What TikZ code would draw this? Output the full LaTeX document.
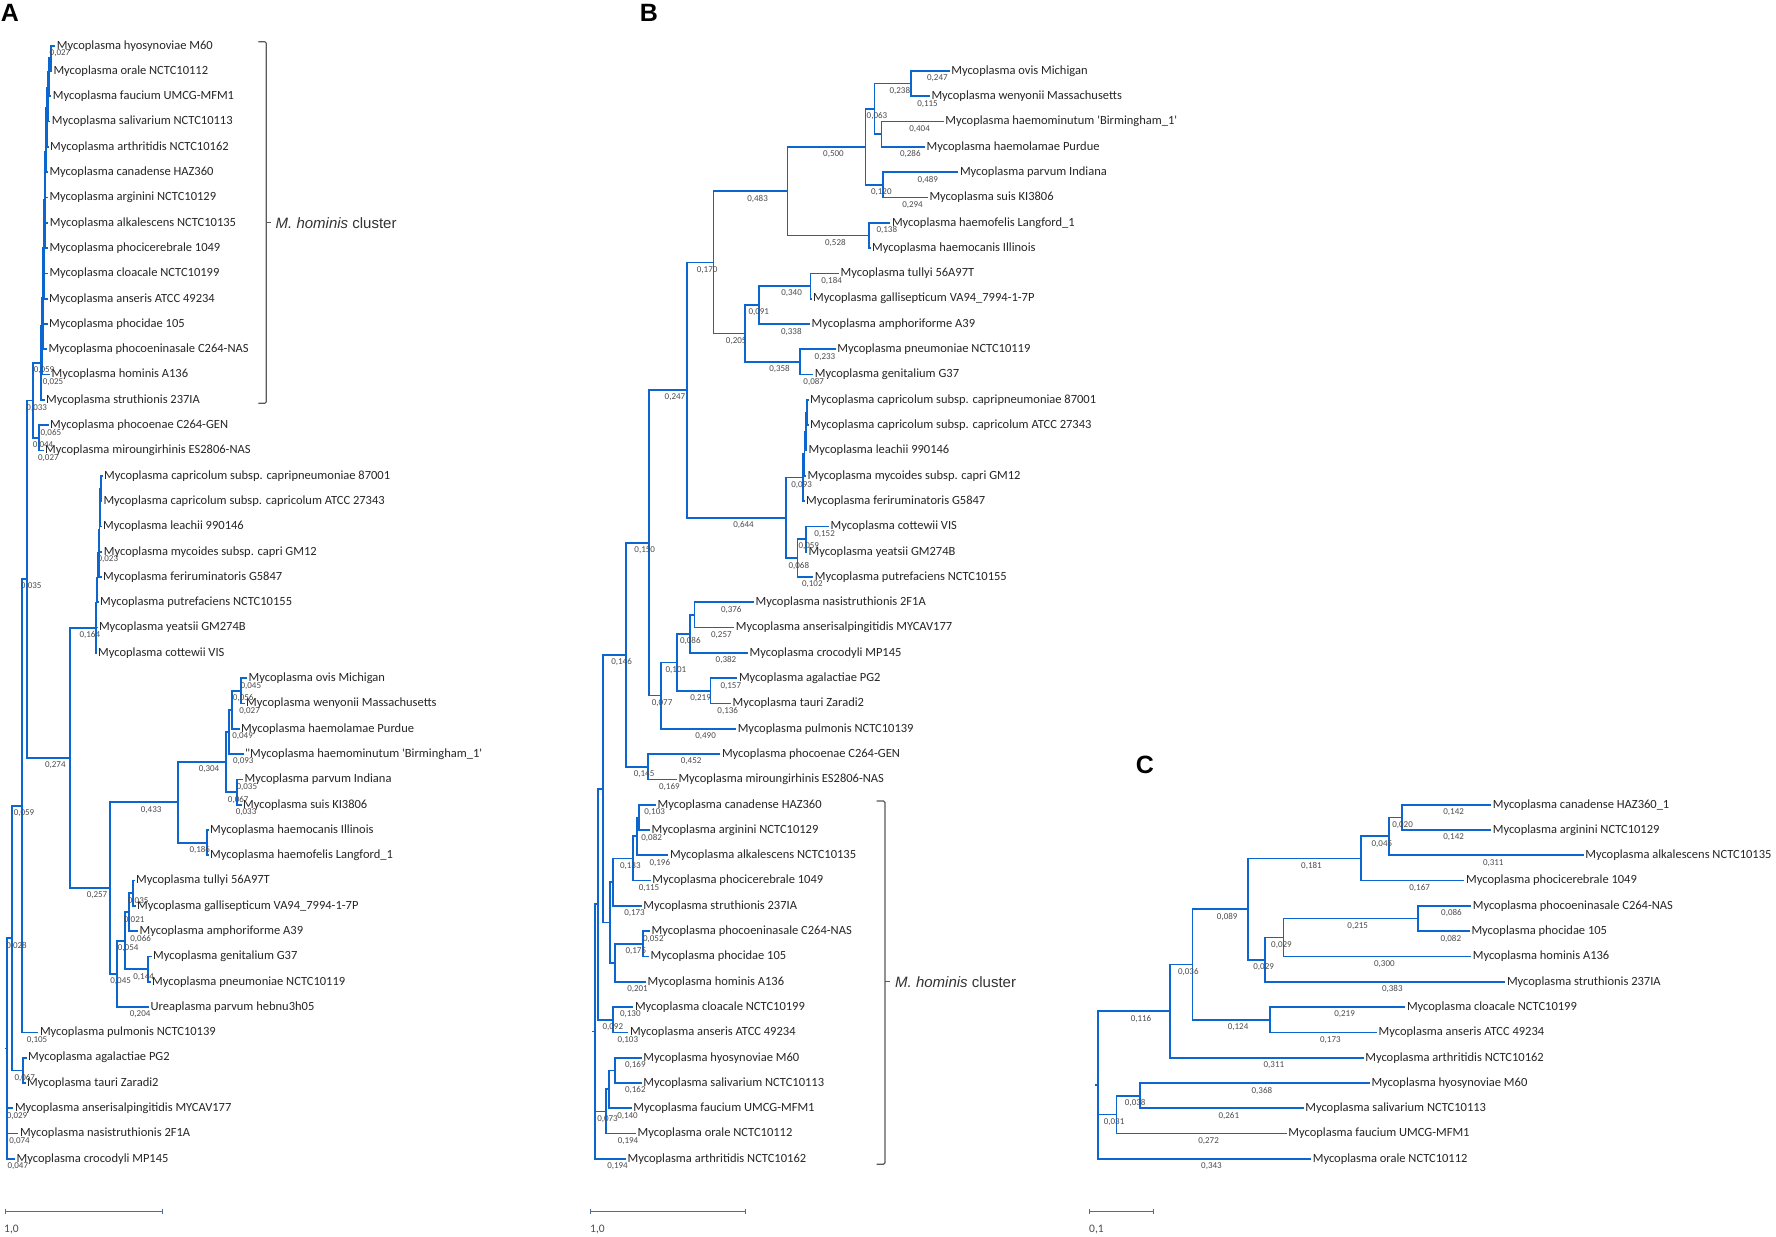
\documentclass[tikz,border=0pt]{standalone}
\usepackage{fontspec}
\newfontfamily\taxfont{Carlito}
\newfontfamily\headfont{Liberation Sans}
\definecolor{treeblue}{RGB}{12,102,208}
\definecolor{bargray}{RGB}{70,110,160}

\begin{document}
\begin{tikzpicture}[x=1pt, y=-1pt,
	branch/.style={draw=treeblue, line width=1.7pt},
	taxon/.style={anchor=west, inner sep=1.5pt, font=\taxfont\fontsize{12.5}{13}\selectfont, text=black!85},
	blen/.style={pos=0.75, xshift=7pt, yshift=-7.5pt, inner sep=0pt, font=\taxfont\fontsize{9}{9}\selectfont, text=black!70},
	bracket/.style={draw=black!65, line width=1.2pt, rounded corners=1.5pt},
	cluster/.style={anchor=west, inner sep=0pt, font=\headfont\fontsize{15}{15}\selectfont, text=black!80},
	panel/.style={inner sep=0pt, font=\headfont\bfseries\fontsize{25}{25}\selectfont},
	scalebar/.style={draw=bargray, line width=1pt},
	scaletext/.style={anchor=west, inner sep=0pt, font=\taxfont\fontsize{11.5}{12}\selectfont, text=black!70}]
	\path [use as bounding box, fill=white] (0, 0) rectangle (1776, 1236);

	\node [panel] (pa) at (10, 12.5) {A};
	\node [panel] (pb) at (649, 12.5) {B};
	\node [panel] (pc) at (1145, 765) {C};

	\node [taxon] (a1) at (55.2, 45.7) {Mycoplasma hyosynoviae M60};
	\node [taxon] (a2) at (51.8, 71.0) {Mycoplasma orale NCTC10112};
	\node [taxon] (a3) at (51.2, 96.3) {Mycoplasma faucium UMCG-MFM1};
	\node [taxon] (a4) at (50.2, 121.6) {Mycoplasma salivarium NCTC10113};
	\node [taxon] (a5) at (48.5, 146.9) {Mycoplasma arthritidis NCTC10162};
	\node [taxon] (a6) at (47.8, 172.2) {Mycoplasma canadense HAZ360};
	\node [taxon] (a7) at (47.8, 197.5) {Mycoplasma arginini NCTC10129};
	\node [taxon] (a8) at (48.2, 222.8) {Mycoplasma alkalescens NCTC10135};
	\node [taxon] (a9) at (47.8, 248.1) {Mycoplasma phocicerebrale 1049};
	\node [taxon] (a10) at (47.8, 273.4) {Mycoplasma cloacale NCTC10199};
	\node [taxon] (a11) at (47.5, 298.7) {Mycoplasma anseris ATCC 49234};
	\node [taxon] (a12) at (47.5, 324.0) {Mycoplasma phocidae 105};
	\node [taxon] (a13) at (46.8, 349.3) {Mycoplasma phocoeninasale C264-NAS};
	\node [taxon] (a14) at (50.0, 374.6) {Mycoplasma hominis A136};
	\node [taxon] (a15) at (44.5, 399.9) {Mycoplasma struthionis 237IA};
	\node [taxon] (a16) at (48.5, 425.2) {Mycoplasma phocoenae C264-GEN};
	\node [taxon] (a17) at (43.5, 450.5) {Mycoplasma miroungirhinis ES2806-NAS};
	\node [taxon] (a18) at (102.5, 475.8) {Mycoplasma capricolum subsp. capripneumoniae 87001};
	\node [taxon] (a19) at (101.8, 501.1) {Mycoplasma capricolum subsp. capricolum ATCC 27343};
	\node [taxon] (a20) at (101.5, 526.4) {Mycoplasma leachii 990146};
	\node [taxon] (a21) at (102.2, 551.7) {Mycoplasma mycoides subsp. capri GM12};
	\node [taxon] (a22) at (101.5, 577.0) {Mycoplasma feriruminatoris G5847};
	\node [taxon] (a23) at (98.5, 602.3) {Mycoplasma putrefaciens NCTC10155};
	\node [taxon] (a24) at (97.3, 627.6) {Mycoplasma yeatsii GM274B};
	\node [taxon] (a25) at (96.5, 652.9) {Mycoplasma cottewii VIS};
	\node [taxon] (a26) at (247.0, 678.2) {Mycoplasma ovis Michigan};
	\node [taxon] (a27) at (244.5, 703.5) {Mycoplasma wenyonii Massachusetts};
	\node [taxon] (a28) at (239.5, 728.8) {Mycoplasma haemolamae Purdue};
	\node [taxon] (a29) at (243.5, 754.1) {"Mycoplasma haemominutum 'Birmingham\_1'};
	\node [taxon] (a30) at (243.0, 779.4) {Mycoplasma parvum Indiana};
	\node [taxon] (a31) at (241.5, 804.7) {Mycoplasma suis KI3806};
	\node [taxon] (a32) at (208.5, 830.0) {Mycoplasma haemocanis Illinois};
	\node [taxon] (a33) at (208.5, 855.3) {Mycoplasma haemofelis Langford\_1};
	\node [taxon] (a34) at (134.5, 880.6) {Mycoplasma tullyi 56A97T};
	\node [taxon] (a35) at (135.5, 905.9) {Mycoplasma gallisepticum VA94\_7994-1-7P};
	\node [taxon] (a36) at (138.0, 931.2) {Mycoplasma amphoriforme A39};
	\node [taxon] (a37) at (151.5, 956.5) {Mycoplasma genitalium G37};
	\node [taxon] (a38) at (150.5, 981.8) {Mycoplasma pneumoniae NCTC10119};
	\node [taxon] (a39) at (149.0, 1007.1) {Ureaplasma parvum hebnu3h05};
	\node [taxon] (a40) at (38.3, 1032.4) {Mycoplasma pulmonis NCTC10139};
	\node [taxon] (a41) at (26.5, 1057.7) {Mycoplasma agalactiae PG2};
	\node [taxon] (a42) at (25.5, 1083.0) {Mycoplasma tauri Zaradi2};
	\node [taxon] (a43) at (13.3, 1108.3) {Mycoplasma anserisalpingitidis MYCAV177};
	\node [taxon] (a44) at (18.3, 1133.6) {Mycoplasma nasistruthionis 2F1A};
	\node [taxon] (a45) at (15.0, 1158.9) {Mycoplasma crocodyli MP145};

	\coordinate (ah1) at (50.7, 58);
	\coordinate (ah2) at (49.3, 72);
	\coordinate (ah3) at (48.3, 88);
	\coordinate (ah4) at (46.7, 108);
	\coordinate (ah5) at (46.0, 130);
	\coordinate (ah6) at (45.5, 152);
	\coordinate (ah7) at (45.0, 176);
	\coordinate (ah8) at (44.7, 200);
	\coordinate (ah9) at (44.3, 224);
	\coordinate (ah10) at (44.0, 248);
	\coordinate (ah11) at (43.3, 272);
	\coordinate (ah12) at (42.7, 298);
	\coordinate (ah13) at (42.0, 326);
	\coordinate (ah14) at (41.3, 363);
	\coordinate (apm) at (39.3, 437.85);
	\coordinate (an33) at (32.7, 400.4);
	\coordinate (an35) at (26.7, 579.1);
	\coordinate (an274) at (70.0, 757.8);
	\coordinate (am1) at (101.0, 488.45);
	\coordinate (am2) at (100.3, 507.4);
	\coordinate (am3) at (99.5, 529.55);
	\coordinate (am4) at (98.7, 553.3);
	\coordinate (am5) at (97.6, 577.8);
	\coordinate (am6) at (96.6, 602.7);
	\coordinate (agm) at (95.7, 627.8);
	\coordinate (aow) at (240.7, 690.85);
	\coordinate (au2) at (231.7, 709.8);
	\coordinate (au1) at (229.0, 731.95);
	\coordinate (aps) at (236.7, 792.05);
	\coordinate (ahb) at (225.7, 762.0);
	\coordinate (ahc) at (207.3, 842.65);
	\coordinate (aha) at (178.3, 802.3);
	\coordinate (atg) at (133.0, 893.25);
	\coordinate (atga) at (129.3, 912.2);
	\coordinate (agp) at (148.3, 969.15);
	\coordinate (az375) at (125.0, 940.7);
	\coordinate (az352) at (117.3, 973.9);
	\coordinate (az330) at (110.0, 888.1);
	\coordinate (an59) at (21.7, 805.75);
	\coordinate (aat) at (23.3, 1070.35);
	\coordinate (an28) at (12.3, 938.05);
	\coordinate (aroot) at (6.7, 1048.5);
	\coordinate (a0) at (4.5, 1048.5);

	\draw [branch] (ah1) |- (a1) node [blen] {0,027};
	\draw [branch] (ah1) |- (a2);
	\draw [branch] (ah2) |- (ah1);
	\draw [branch] (ah2) |- (a3);
	\draw [branch] (ah3) |- (ah2);
	\draw [branch] (ah3) |- (a4);
	\draw [branch] (ah4) |- (ah3);
	\draw [branch] (ah4) |- (a5);
	\draw [branch] (ah5) |- (ah4);
	\draw [branch] (ah5) |- (a6);
	\draw [branch] (ah6) |- (ah5);
	\draw [branch] (ah6) |- (a7);
	\draw [branch] (ah7) |- (ah6);
	\draw [branch] (ah7) |- (a8);
	\draw [branch] (ah8) |- (ah7);
	\draw [branch] (ah8) |- (a9);
	\draw [branch] (ah9) |- (ah8);
	\draw [branch] (ah9) |- (a10);
	\draw [branch] (ah10) |- (ah9);
	\draw [branch] (ah10) |- (a11);
	\draw [branch] (ah11) |- (ah10);
	\draw [branch] (ah11) |- (a12);
	\draw [branch] (ah12) |- (ah11);
	\draw [branch] (ah12) |- (a13);
	\draw [branch] (ah13) |- (ah12);
	\draw [branch] (ah13) |- (a14) node [blen] {0,025};
	\draw [branch] (ah14) |- (ah13);
	\draw [branch] (ah14) |- (a15);
	\draw [branch] (an33) |- (ah14) node [blen] {0,059};
	\draw [branch] (an33) |- (apm) node [blen] {0,044};
	\draw [branch] (apm) |- (a16) node [blen] {0,065};
	\draw [branch] (apm) |- (a17) node [blen] {0,027};
	\draw [branch] (an35) |- (an33) node [blen] {0,033};
	\draw [branch] (an35) |- (an274) node [blen] {0,274};
	\draw [branch] (an274) |- (agm) node [blen] {0,164};
	\draw [branch] (an274) |- (az330) node [blen] {0,257};

	\draw [branch] (am1) |- (a18);
	\draw [branch] (am1) |- (a19);
	\draw [branch] (am2) |- (am1);
	\draw [branch] (am2) |- (a20);
	\draw [branch] (am3) |- (am2);
	\draw [branch] (am3) |- (a21) node [blen] {0,023};
	\draw [branch] (am4) |- (am3);
	\draw [branch] (am4) |- (a22);
	\draw [branch] (am5) |- (am4);
	\draw [branch] (am5) |- (a23);
	\draw [branch] (am6) |- (am5);
	\draw [branch] (am6) |- (a24);
	\draw [branch] (agm) |- (am6);
	\draw [branch] (agm) |- (a25);

	\draw [branch] (aow) |- (a26) node [blen] {0,045};
	\draw [branch] (aow) |- (a27) node [blen] {0,027};
	\draw [branch] (au2) |- (aow) node [blen] {0,056};
	\draw [branch] (au2) |- (a28) node [blen] {0,049};
	\draw [branch] (au1) |- (au2);
	\draw [branch] (au1) |- (a29) node [blen] {0,093};
	\draw [branch] (aps) |- (a30) node [blen] {0,035};
	\draw [branch] (aps) |- (a31) node [blen] {0,033};
	\draw [branch] (ahb) |- (au1);
	\draw [branch] (ahb) |- (aps) node [blen] {0,067};
	\draw [branch] (ahc) |- (a32);
	\draw [branch] (ahc) |- (a33);
	\draw [branch] (aha) |- (ahb) node [blen] {0,304};
	\draw [branch] (aha) |- (ahc) node [blen] {0,186};
	\draw [branch] (az330) |- (aha) node [blen] {0,433};

	\draw [branch] (atg) |- (a34);
	\draw [branch] (atg) |- (a35);
	\draw [branch] (atga) |- (atg) node [blen] {0,035};
	\draw [branch] (atga) |- (a36) node [blen] {0,066};
	\draw [branch] (agp) |- (a37);
	\draw [branch] (agp) |- (a38);
	\draw [branch] (az375) |- (atga) node [blen] {0,021};
	\draw [branch] (az375) |- (agp) node [blen] {0,144};
	\draw [branch] (az352) |- (az375) node [blen] {0,054};
	\draw [branch] (az352) |- (a39) node [blen] {0,204};
	\draw [branch] (az330) |- (az352) node [blen] {0,045};

	\draw [branch] (an59) |- (an35) node [blen] {0,035};
	\draw [branch] (an59) |- (a40) node [blen] {0,105};
	\draw [branch] (aat) |- (a41);
	\draw [branch] (aat) |- (a42);
	\draw [branch] (an28) |- (an59) node [blen] {0,059};
	\draw [branch] (an28) |- (aat) node [blen] {0,067};
	\draw [branch] (aroot) |- (an28) node [blen] {0,028};
	\draw [branch] (aroot) |- (a43) node [blen] {0,029};
	\draw [branch] (aroot) |- (a44) node [blen] {0,074};
	\draw [branch] (aroot) |- (a45) node [blen] {0,047};
	\draw [branch] (a0) -- (aroot);

	\draw [bracket] (258.3, 41.7) -- (266.3, 41.7) -- (266.3, 403.3) -- (258.3, 403.3);
	\draw [bracket] (266.3, 222.7) -- (271.3, 222.7);
	\node [cluster] (ahom) at (275.5, 222.7) {{\itshape M. hominis} cluster};

	\draw [scalebar] (5, 1208.5) -- (5, 1213.5) (5, 1211) -- (162.3, 1211) (162.3, 1208.5) -- (162.3, 1213.5);
	\node [scaletext] (asc) at (4, 1229.3) {1,0};

	\node [taxon] (b1) at (949.6, 71.0) {Mycoplasma ovis Michigan};
	\node [taxon] (b2) at (929.8, 96.3) {Mycoplasma wenyonii Massachusetts};
	\node [taxon] (b3) at (943.6, 121.6) {Mycoplasma haemominutum 'Birmingham\_1'};
	\node [taxon] (b4) at (925.0, 146.9) {Mycoplasma haemolamae Purdue};
	\node [taxon] (b5) at (958.3, 172.2) {Mycoplasma parvum Indiana};
	\node [taxon] (b6) at (927.8, 197.5) {Mycoplasma suis KI3806};
	\node [taxon] (b7) at (890.3, 222.8) {Mycoplasma haemofelis Langford\_1};
	\node [taxon] (b8) at (870.5, 248.1) {Mycoplasma haemocanis Illinois};
	\node [taxon] (b9) at (838.9, 273.4) {Mycoplasma tullyi 56A97T};
	\node [taxon] (b10) at (811.5, 298.7) {Mycoplasma gallisepticum VA94\_7994-1-7P};
	\node [taxon] (b11) at (810.0, 324.0) {Mycoplasma amphoriforme A39};
	\node [taxon] (b12) at (835.7, 349.3) {Mycoplasma pneumoniae NCTC10119};
	\node [taxon] (b13) at (813.2, 374.6) {Mycoplasma genitalium G37};
	\node [taxon] (b14) at (808.5, 399.9) {Mycoplasma capricolum subsp. capripneumoniae 87001};
	\node [taxon] (b15) at (808.5, 425.2) {Mycoplasma capricolum subsp. capricolum ATCC 27343};
	\node [taxon] (b16) at (807.0, 450.5) {Mycoplasma leachii 990146};
	\node [taxon] (b17) at (806.0, 475.8) {Mycoplasma mycoides subsp. capri GM12};
	\node [taxon] (b18) at (804.5, 501.1) {Mycoplasma feriruminatoris G5847};
	\node [taxon] (b19) at (829.0, 526.4) {Mycoplasma cottewii VIS};
	\node [taxon] (b20) at (807.0, 551.7) {Mycoplasma yeatsii GM274B};
	\node [taxon] (b21) at (813.2, 577.0) {Mycoplasma putrefaciens NCTC10155};
	\node [taxon] (b22) at (753.9, 602.3) {Mycoplasma nasistruthionis 2F1A};
	\node [taxon] (b23) at (734.2, 627.6) {Mycoplasma anserisalpingitidis MYCAV177};
	\node [taxon] (b24) at (748.0, 652.9) {Mycoplasma crocodyli MP145};
	\node [taxon] (b25) at (737.3, 678.2) {Mycoplasma agalactiae PG2};
	\node [taxon] (b26) at (731.0, 703.5) {Mycoplasma tauri Zaradi2};
	\node [taxon] (b27) at (736.1, 728.8) {Mycoplasma pulmonis NCTC10139};
	\node [taxon] (b28) at (720.3, 754.1) {Mycoplasma phocoenae C264-GEN};
	\node [taxon] (b29) at (676.8, 779.4) {Mycoplasma miroungirhinis ES2806-NAS};
	\node [taxon] (b30) at (656.0, 804.7) {Mycoplasma canadense HAZ360};
	\node [taxon] (b31) at (650.0, 830.0) {Mycoplasma arginini NCTC10129};
	\node [taxon] (b32) at (668.3, 855.3) {Mycoplasma alkalescens NCTC10135};
	\node [taxon] (b33) at (650.7, 880.6) {Mycoplasma phocicerebrale 1049};
	\node [taxon] (b34) at (641.7, 905.9) {Mycoplasma struthionis 237IA};
	\node [taxon] (b35) at (650.0, 931.2) {Mycoplasma phocoeninasale C264-NAS};
	\node [taxon] (b36) at (649.0, 956.5) {Mycoplasma phocidae 105};
	\node [taxon] (b37) at (646.0, 981.8) {Mycoplasma hominis A136};
	\node [taxon] (b38) at (633.3, 1007.1) {Mycoplasma cloacale NCTC10199};
	\node [taxon] (b39) at (628.3, 1032.4) {Mycoplasma anseris ATCC 49234};
	\node [taxon] (b40) at (641.7, 1057.7) {Mycoplasma hyosynoviae M60};
	\node [taxon] (b41) at (641.7, 1083.0) {Mycoplasma salivarium NCTC10113};
	\node [taxon] (b42) at (631.7, 1108.3) {Mycoplasma faucium UMCG-MFM1};
	\node [taxon] (b43) at (636.0, 1133.6) {Mycoplasma orale NCTC10112};
	\node [taxon] (b44) at (626.0, 1158.9) {Mycoplasma arthritidis NCTC10162};

	\coordinate (bow) at (911.2, 83.65);
	\coordinate (bhh) at (881.6, 134.25);
	\coordinate (ba) at (874.5, 108.95);
	\coordinate (bps) at (883.2, 184.85);
	\coordinate (bb) at (865.4, 146.9);
	\coordinate (bfc) at (869.3, 235.45);
	\coordinate (bc) at (787.5, 191.2);
	\coordinate (btg) at (810.4, 286.05);
	\coordinate (bd) at (758.7, 305.0);
	\coordinate (bpg) at (800.2, 361.95);
	\coordinate (be) at (744.8, 333.5);
	\coordinate (bf) at (713.6, 262.35);
	\coordinate (bcc) at (807.3, 412.55);
	\coordinate (bcl) at (805.8, 431.5);
	\coordinate (bcm) at (804.5, 453.65);
	\coordinate (bcf) at (803.0, 477.4);
	\coordinate (bcy) at (806.1, 539.05);
	\coordinate (bcyp) at (797.4, 558.0);
	\coordinate (bg) at (786.3, 517.7);
	\coordinate (bh) at (686.7, 390.0);
	\coordinate (bna) at (694.6, 614.95);
	\coordinate (bi) at (689.9, 633.9);
	\coordinate (bat) at (710.4, 690.85);
	\coordinate (bj) at (676.8, 662.4);
	\coordinate (bk) at (661.0, 695.6);
	\coordinate (bl) at (649.2, 542.8);
	\coordinate (bpm) at (648.0, 766.75);
	\coordinate (bm) at (626.2, 654.8);
	\coordinate (bca) at (639.3, 817.35);
	\coordinate (bcaa) at (637.3, 836.3);
	\coordinate (bcp) at (633.3, 858.45);
	\coordinate (bn) at (613.3, 882.2);
	\coordinate (bpp) at (642.7, 943.85);
	\coordinate (bo) at (615.0, 962.8);
	\coordinate (bp) at (610.0, 922.5);
	\coordinate (bs) at (603.0, 788.65);
	\coordinate (bq) at (613.3, 1019.75);
	\coordinate (bt) at (598.3, 904.2);
	\coordinate (bhs) at (615.0, 1070.35);
	\coordinate (bv) at (609.3, 1089.3);
	\coordinate (bw) at (606.0, 1111.45);
	\coordinate (bu) at (595.0, 1031.55);
	\coordinate (b0) at (591.5, 1031.55);

	\draw [branch] (bow) |- (b1) node [blen] {0,247};
	\draw [branch] (bow) |- (b2) node [blen] {0,115};
	\draw [branch] (ba) |- (bow) node [blen] {0,238};
	\draw [branch] (bhh) |- (b3) node [blen] {0,404};
	\draw [branch] (bhh) |- (b4) node [blen] {0,286};
	\draw [branch] (ba) |- (bhh);
	\draw [branch] (bb) |- (ba) node [blen] {0,063};
	\draw [branch] (bps) |- (b5) node [blen] {0,489};
	\draw [branch] (bps) |- (b6) node [blen] {0,294};
	\draw [branch] (bb) |- (bps) node [blen] {0,120};
	\draw [branch] (bc) |- (bb) node [blen] {0,500};
	\draw [branch] (bfc) |- (b7) node [blen] {0,138};
	\draw [branch] (bfc) |- (b8);
	\draw [branch] (bc) |- (bfc) node [blen] {0,528};
	\draw [branch] (bf) |- (bc) node [blen] {0,483};

	\draw [branch] (btg) |- (b9) node [blen] {0,184};
	\draw [branch] (btg) |- (b10);
	\draw [branch] (bd) |- (btg) node [blen] {0,340};
	\draw [branch] (bd) |- (b11) node [blen] {0,338};
	\draw [branch] (be) |- (bd) node [blen] {0,091};
	\draw [branch] (bpg) |- (b12) node [blen] {0,233};
	\draw [branch] (bpg) |- (b13) node [blen] {0,087};
	\draw [branch] (be) |- (bpg) node [blen] {0,358};
	\draw [branch] (bf) |- (be) node [blen] {0,205};
	\draw [branch] (bh) |- (bf) node [blen] {0,170};

	\draw [branch] (bcc) |- (b14);
	\draw [branch] (bcc) |- (b15);
	\draw [branch] (bcl) |- (bcc);
	\draw [branch] (bcl) |- (b16);
	\draw [branch] (bcm) |- (bcl);
	\draw [branch] (bcm) |- (b17);
	\draw [branch] (bcf) |- (bcm);
	\draw [branch] (bcf) |- (b18);
	\draw [branch] (bg) |- (bcf) node [blen] {0,093};
	\draw [branch] (bcy) |- (b19) node [blen] {0,152};
	\draw [branch] (bcy) |- (b20);
	\draw [branch] (bcyp) |- (bcy) node [blen] {0,059};
	\draw [branch] (bcyp) |- (b21) node [blen] {0,102};
	\draw [branch] (bg) |- (bcyp) node [blen] {0,068};
	\draw [branch] (bh) |- (bg) node [blen] {0,644};

	\draw [branch] (bna) |- (b22) node [blen] {0,376};
	\draw [branch] (bna) |- (b23) node [blen] {0,257};
	\draw [branch] (bi) |- (bna);
	\draw [branch] (bi) |- (b24) node [blen] {0,382};
	\draw [branch] (bj) |- (bi) node [blen] {0,086};
	\draw [branch] (bat) |- (b25) node [blen] {0,157};
	\draw [branch] (bat) |- (b26) node [blen] {0,136};
	\draw [branch] (bj) |- (bat) node [blen] {0,219};
	\draw [branch] (bk) |- (bj) node [blen] {0,101};
	\draw [branch] (bk) |- (b27) node [blen] {0,490};
	\draw [branch] (bl) |- (bh) node [blen] {0,247};
	\draw [branch] (bl) |- (bk) node [blen] {0,077};
	\draw [branch] (bm) |- (bl) node [blen] {0,150};
	\draw [branch] (bpm) |- (b28) node [blen] {0,452};
	\draw [branch] (bpm) |- (b29) node [blen] {0,169};
	\draw [branch] (bm) |- (bpm) node [blen] {0,145};

	\draw [branch] (bca) |- (b30) node [blen] {0,103};
	\draw [branch] (bca) |- (b31) node [blen] {0,082};
	\draw [branch] (bcaa) |- (bca);
	\draw [branch] (bcaa) |- (b32) node [blen] {0,196};
	\draw [branch] (bcp) |- (bcaa);
	\draw [branch] (bcp) |- (b33) node [blen] {0,115};
	\draw [branch] (bn) |- (bcp) node [blen] {0,133};
	\draw [branch] (bn) |- (b34) node [blen] {0,173};
	\draw [branch] (bpp) |- (b35) node [blen] {0,052};
	\draw [branch] (bpp) |- (b36);
	\draw [branch] (bo) |- (bpp) node [blen] {0,175};
	\draw [branch] (bo) |- (b37) node [blen] {0,201};
	\draw [branch] (bp) |- (bn);
	\draw [branch] (bp) |- (bo);
	\draw [branch] (bs) |- (bm) node [blen] {0,146};
	\draw [branch] (bs) |- (bp);
	\draw [branch] (bq) |- (b38) node [blen] {0,130};
	\draw [branch] (bq) |- (b39) node [blen] {0,103};
	\draw [branch] (bt) |- (bs);
	\draw [branch] (bt) |- (bq) node [blen] {0,092};
	\draw [branch] (bhs) |- (b40) node [blen] {0,169};
	\draw [branch] (bhs) |- (b41) node [blen] {0,162};
	\draw [branch] (bv) |- (bhs);
	\draw [branch] (bv) |- (b42) node [blen] {0,140};
	\draw [branch] (bw) |- (bv);
	\draw [branch] (bw) |- (b43) node [blen] {0,194};
	\draw [branch] (bu) |- (bt);
	\draw [branch] (bu) |- (bw) node [blen] {0,073};
	\draw [branch] (bu) |- (b44) node [blen] {0,194};
	\draw [branch] (b0) -- (bu);

	\draw [bracket] (876.7, 801) -- (885, 801) -- (885, 1164.3) -- (876.7, 1164.3);
	\draw [bracket] (885, 981.7) -- (889.5, 981.7);
	\node [cluster] (bhom) at (895, 981.7) {{\itshape M. hominis} cluster};

	\draw [scalebar] (590.7, 1209) -- (590.7, 1214) (590.7, 1211.5) -- (745.7, 1211.5) (745.7, 1209) -- (745.7, 1214);
	\node [scaletext] (bsc) at (590, 1229.3) {1,0};

	\node [taxon] (c1) at (1491.1, 804.7) {Mycoplasma canadense HAZ360\_1};
	\node [taxon] (c2) at (1491.1, 830.0) {Mycoplasma arginini NCTC10129};
	\node [taxon] (c3) at (1583.6, 855.3) {Mycoplasma alkalescens NCTC10135};
	\node [taxon] (c4) at (1464.4, 880.6) {Mycoplasma phocicerebrale 1049};
	\node [taxon] (c5) at (1471.1, 905.9) {Mycoplasma phocoeninasale C264-NAS};
	\node [taxon] (c6) at (1469.8, 931.2) {Mycoplasma phocidae 105};
	\node [taxon] (c7) at (1471.1, 956.5) {Mycoplasma hominis A136};
	\node [taxon] (c8) at (1505.3, 981.8) {Mycoplasma struthionis 237IA};
	\node [taxon] (c9) at (1405.3, 1007.1) {Mycoplasma cloacale NCTC10199};
	\node [taxon] (c10) at (1376.9, 1032.4) {Mycoplasma anseris ATCC 49234};
	\node [taxon] (c11) at (1363.6, 1057.7) {Mycoplasma arthritidis NCTC10162};
	\node [taxon] (c12) at (1369.8, 1083.0) {Mycoplasma hyosynoviae M60};
	\node [taxon] (c13) at (1303.6, 1108.3) {Mycoplasma salivarium NCTC10113};
	\node [taxon] (c14) at (1286.7, 1133.6) {Mycoplasma faucium UMCG-MFM1};
	\node [taxon] (c15) at (1311.1, 1158.9) {Mycoplasma orale NCTC10112};

	\coordinate (cca) at (1402.2, 817.35);
	\coordinate (ccaa) at (1388.9, 836.3);
	\coordinate (cx1) at (1360.9, 858.45);
	\coordinate (cpp) at (1417.8, 918.55);
	\coordinate (cx2) at (1283.6, 937.5);
	\coordinate (cx3) at (1265.3, 959.65);
	\coordinate (cx4) at (1248.0, 909.05);
	\coordinate (cx5) at (1269.8, 1019.75);
	\coordinate (cx6) at (1192.4, 964.4);
	\coordinate (cx7) at (1170.2, 1011.05);
	\coordinate (chs) at (1140.0, 1095.65);
	\coordinate (cx8) at (1116.4, 1114.6);
	\coordinate (cx9) at (1097.8, 1085.0);
	\coordinate (c0) at (1095.3, 1085.0);

	\draw [branch] (cca) |- (c1) node [blen] {0,142};
	\draw [branch] (cca) |- (c2) node [blen] {0,142};
	\draw [branch] (ccaa) |- (cca) node [blen] {0,020};
	\draw [branch] (ccaa) |- (c3) node [blen] {0,311};
	\draw [branch] (cx1) |- (ccaa) node [blen] {0,045};
	\draw [branch] (cx1) |- (c4) node [blen] {0,167};
	\draw [branch] (cx4) |- (cx1) node [blen] {0,181};
	\draw [branch] (cpp) |- (c5) node [blen] {0,086};
	\draw [branch] (cpp) |- (c6) node [blen] {0,082};
	\draw [branch] (cx2) |- (cpp) node [blen] {0,215};
	\draw [branch] (cx2) |- (c7) node [blen] {0,300};
	\draw [branch] (cx3) |- (cx2) node [blen] {0,029};
	\draw [branch] (cx3) |- (c8) node [blen] {0,383};
	\draw [branch] (cx4) |- (cx3) node [blen] {0,029};
	\draw [branch] (cx6) |- (cx4) node [blen] {0,089};
	\draw [branch] (cx5) |- (c9) node [blen] {0,219};
	\draw [branch] (cx5) |- (c10) node [blen] {0,173};
	\draw [branch] (cx6) |- (cx5) node [blen] {0,124};
	\draw [branch] (cx7) |- (cx6) node [blen] {0,036};
	\draw [branch] (cx7) |- (c11) node [blen] {0,311};
	\draw [branch] (cx9) |- (cx7) node [blen] {0,116};
	\draw [branch] (chs) |- (c12) node [blen] {0,368};
	\draw [branch] (chs) |- (c13) node [blen] {0,261};
	\draw [branch] (cx8) |- (chs) node [blen] {0,038};
	\draw [branch] (cx8) |- (c14) node [blen] {0,272};
	\draw [branch] (cx9) |- (cx8) node [blen] {0,031};
	\draw [branch] (cx9) |- (c15) node [blen] {0,343};
	\draw [branch] (c0) -- (cx9);

	\draw [scalebar] (1089.8, 1209) -- (1089.8, 1214) (1089.8, 1211.5) -- (1153.3, 1211.5) (1153.3, 1209) -- (1153.3, 1214);
	\node [scaletext] (csc) at (1089, 1229.3) {0,1};
\end{tikzpicture}
\end{document}
